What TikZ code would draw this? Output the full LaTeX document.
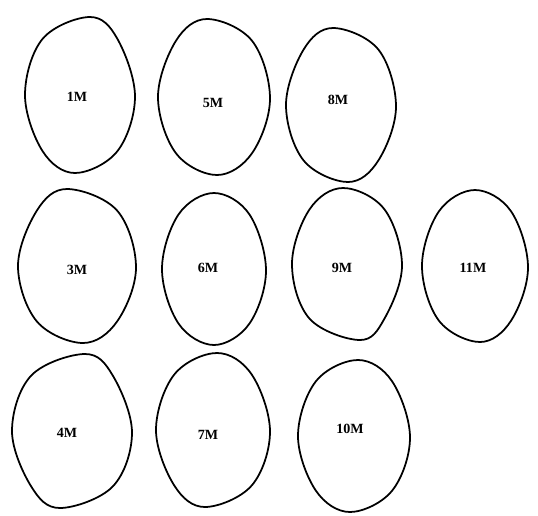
\documentclass[tikz,border=0pt]{standalone}
\usepackage{fontspec}
\setmainfont{Liberation Serif}
\usepackage{tikz}
\usetikzlibrary{positioning}

\begin{document}
\begin{tikzpicture}[x=0.02cm,y=-0.02cm]
\tikzset{grain/.style={draw=black,line width=1pt,line join=round},
  tag/.style={font=\fontsize{8}{8}\selectfont\bfseries,inner sep=0pt}}
\useasboundingbox (0,0) rectangle (538,515);
% outlines: centre, half width, half height, shift of top and bottom point
\foreach \cx/\cy/\rx/\ry/\tx/\bx in {80/95/55/78/10/-5,214/97/56/78/-7/3,341/105/55/77/-8/7,
  77/266/59/77/-10/6,214/269/52/76/0/0,347/264/55/76/-4/13,475/266/53/76/0/5,
  72/431/60/77/13/-12,213/430/57/77/4/-8,354/436/56/76/4/-4}
  \draw[grain] plot[smooth cycle,tension=0.6] coordinates {({\cx+\tx},{\cy-\ry}) ({\cx+0.68*\rx},{\cy-0.72*\ry})
    ({\cx+\rx},{\cy+0.02*\ry}) ({\cx+0.68*\rx},{\cy+0.72*\ry}) ({\cx+\bx},{\cy+\ry})
    ({\cx-0.68*\rx},{\cy+0.72*\ry}) ({\cx-\rx},{\cy}) ({\cx-0.68*\rx},{\cy-0.72*\ry})};
\node[tag] (m1) at (77,97) {1M};
\node[tag] (m5) at (213,103) {5M};
\node[tag] (m8) at (338,100) {8M};
\node[tag] (m3) at (77,270) {3M};
\node[tag] (m6) at (208,268) {6M};
\node[tag] (m9) at (342,268) {9M};
\node[tag] (m11) at (473,268) {11M};
\node[tag] (m4) at (67,433) {4M};
\node[tag] (m7) at (208,435) {7M};
\node[tag] (m10) at (350,429) {10M};
\end{tikzpicture}
\end{document}
